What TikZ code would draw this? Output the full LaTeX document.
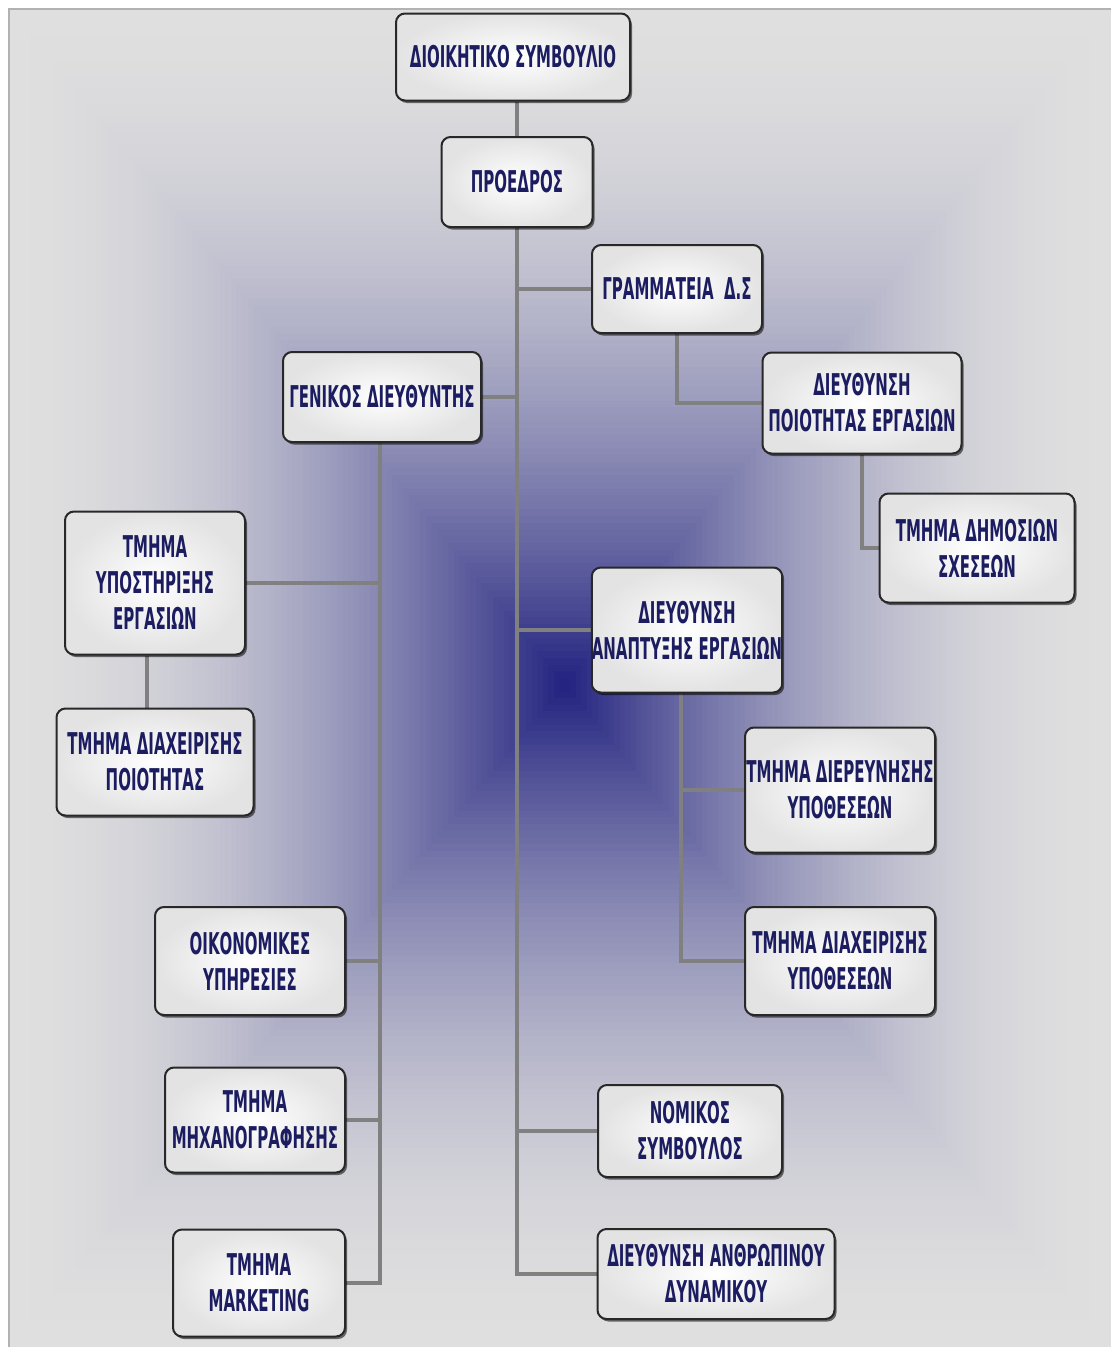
\documentclass[tikz,border=0pt]{standalone}
\usepackage{fontspec}
\newfontfamily\boxfont{DejaVu Sans}[FakeStretch=0.5]
\usetikzlibrary{shadows}
\definecolor{navy}{RGB}{28,28,96}
\definecolor{bgedge}{RGB}{223,223,223}
\definecolor{bgcenter}{RGB}{34,34,128}
\definecolor{linegray}{RGB}{128,128,128}
\definecolor{boxborder}{RGB}{40,40,40}
\pgfdeclarelayer{bg}
\pgfdeclarelayer{lines}
\pgfsetlayers{bg,lines,main}
\begin{document}
\begin{tikzpicture}[x=1pt,y=-1pt,
  orgbox/.style={draw=boxborder, line width=2pt, rounded corners=9pt,
    inner color=white, outer color=gray!22,
    drop shadow={shadow xshift=2pt, shadow yshift=-2.5pt, opacity=0.55, fill=black},
    align=center, text=navy,
    font=\boxfont\bfseries\fontsize{30}{36}\selectfont, inner sep=0pt},
  link/.style={draw=linegray, line width=4pt}
]
\useasboundingbox (0,0) rectangle (1111,1347);
\begin{pgfonlayer}{bg}
\fill[white] (0,0) rectangle (1111,1347);
\foreach \i in {0,...,99}{
  \pgfmathsetmacro\s{1-\i/100}
  \pgfmathsetmacro\f{100*((\i+0.5)/100)^1.9}
  \fill[bgcenter!\f!bgedge] ({565+\s*(8-565)},{685+\s*(8-685)}) rectangle ({565+\s*(1111-565)},{685+\s*(1347-685)});
}
\draw[gray!60, line width=1.5pt] (8.75,1347) -- (8.75,8.75) -- (1111,8.75);
\end{pgfonlayer}

\node[orgbox, minimum width=234, minimum height=87] (dsb) at (513,57) {ΔΙΟΙΚΗΤΙΚΟ ΣΥΜΒΟΥΛΙΟ};
\node[orgbox, minimum width=151, minimum height=90] (pres) at (517,182) {ΠΡΟΕΔΡΟΣ};
\node[orgbox, minimum width=170, minimum height=88] (gram) at (677,289) {ΓΡΑΜΜΑΤΕΙΑ\ \ Δ.Σ};
\node[orgbox, minimum width=199, minimum height=101] (poiot) at (862,403) {ΔΙΕΥΘΥΝΣΗ\\ΠΟΙΟΤΗΤΑΣ ΕΡΓΑΣΙΩΝ};
\node[orgbox, minimum width=195, minimum height=109] (dimos) at (977,548) {ΤΜΗΜΑ ΔΗΜΟΣΙΩΝ\\ΣΧΕΣΕΩΝ};
\node[orgbox, minimum width=198, minimum height=90] (gen) at (382,397) {ΓΕΝΙΚΟΣ ΔΙΕΥΘΥΝΤΗΣ};
\node[orgbox, minimum width=190, minimum height=125] (anapt) at (687,630) {ΔΙΕΥΘΥΝΣΗ\\ΑΝΑΠΤΥΞΗΣ ΕΡΓΑΣΙΩΝ};
\node[orgbox, minimum width=190, minimum height=125] (dier) at (840,790) {ΤΜΗΜΑ ΔΙΕΡΕΥΝΗΣΗΣ\\ΥΠΟΘΕΣΕΩΝ};
\node[orgbox, minimum width=190, minimum height=108] (diaxy) at (840,961) {ΤΜΗΜΑ ΔΙΑΧΕΙΡΙΣΗΣ\\ΥΠΟΘΕΣΕΩΝ};
\node[orgbox, minimum width=184, minimum height=92] (nom) at (690,1131) {ΝΟΜΙΚΟΣ\\ΣΥΜΒΟΥΛΟΣ};
\node[orgbox, minimum width=237, minimum height=90] (anthr) at (716,1274) {ΔΙΕΥΘΥΝΣΗ ΑΝΘΡΩΠΙΝΟΥ\\ΔΥΝΑΜΙΚΟΥ};
\node[orgbox, minimum width=180, minimum height=143] (ypost) at (155,583) {ΤΜΗΜΑ\\ΥΠΟΣΤΗΡΙΞΗΣ\\ΕΡΓΑΣΙΩΝ};
\node[orgbox, minimum width=197, minimum height=107] (diaxp) at (155,762) {ΤΜΗΜΑ ΔΙΑΧΕΙΡΙΣΗΣ\\ΠΟΙΟΤΗΤΑΣ};
\node[orgbox, minimum width=190, minimum height=108] (oik) at (250,961) {ΟΙΚΟΝΟΜΙΚΕΣ\\ΥΠΗΡΕΣΙΕΣ};
\node[orgbox, minimum width=180, minimum height=105] (mich) at (255,1120) {ΤΜΗΜΑ\\ΜΗΧΑΝΟΓΡΑΦΗΣΗΣ};
\node[orgbox, minimum width=172, minimum height=107] (mark) at (259,1283) {ΤΜΗΜΑ\\MARKETING};

\begin{pgfonlayer}{lines}
\draw[link] (pres.north) -- (pres.north |- dsb.south);
\draw[link] (pres.south) |- (anthr.west);
\draw[link] (pres.south |- gram.west) -- (gram.west);
\draw[link] (pres.south |- gen.east) -- (gen.east);
\draw[link] (pres.south |- anapt.west) -- (anapt.west);
\draw[link] (pres.south |- nom.west) -- (nom.west);
\draw[link] (gram.south) |- (poiot.west);
\draw[link] (poiot.south) |- (dimos.west);
\draw[link] ([xshift=-6pt]anapt.south) |- (diaxy.west);
\draw[link] ([xshift=-6pt]anapt.south |- dier.west) -- (dier.west);
\draw[link] ([xshift=-2pt]gen.south) |- (mark.east);
\draw[link] ([xshift=-2pt]gen.south |- ypost.east) -- (ypost.east);
\draw[link] ([xshift=-2pt]gen.south |- oik.east) -- (oik.east);
\draw[link] ([xshift=-2pt]gen.south |- mich.east) -- (mich.east);
\draw[link] ([xshift=-8pt]ypost.south) -- ([xshift=-8pt]ypost.south |- diaxp.north);
\end{pgfonlayer}
\end{tikzpicture}
\end{document}
